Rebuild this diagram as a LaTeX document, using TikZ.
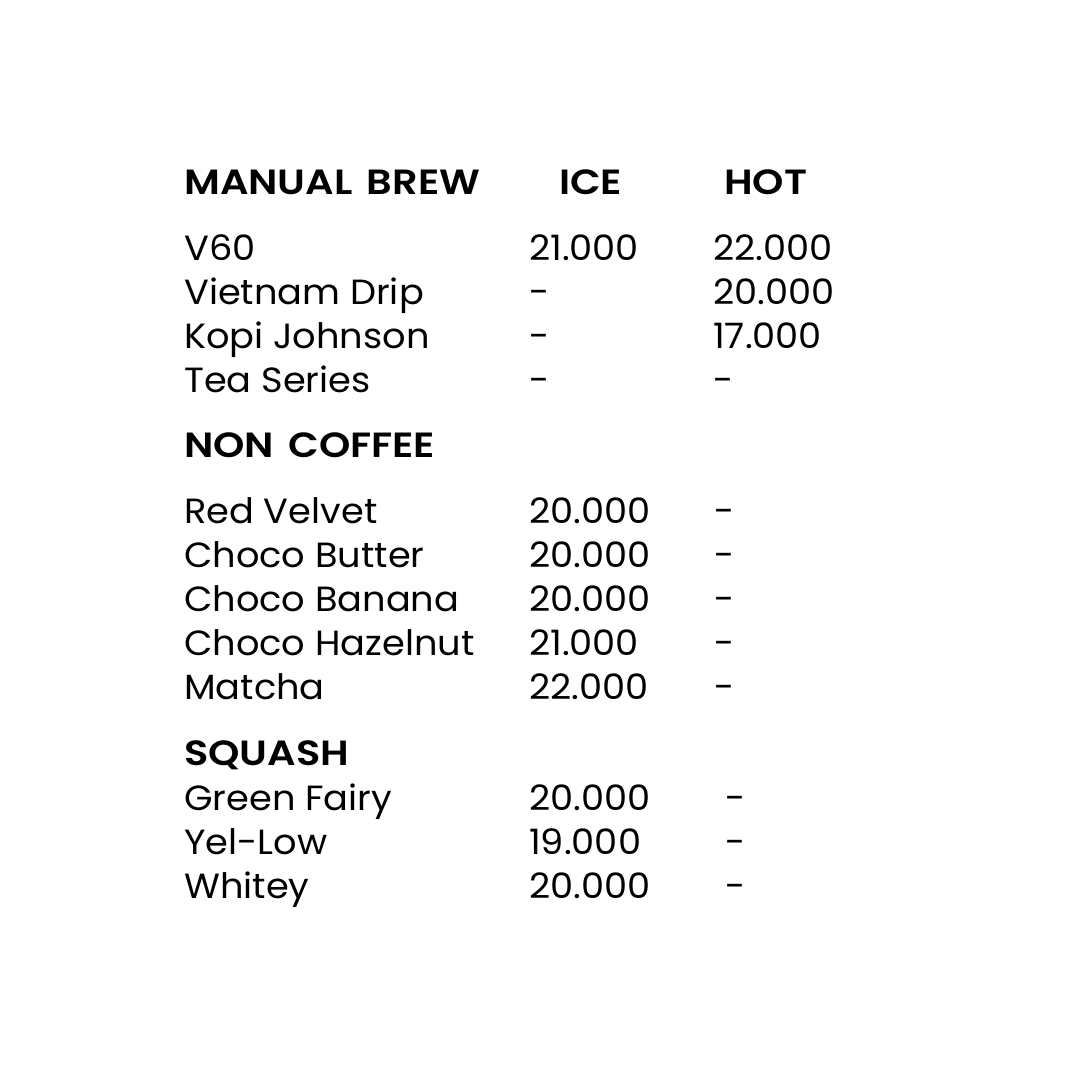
\documentclass[tikz,border=0pt]{standalone}
\usepackage{fontspec}
\setmainfont{Poppins}
\newfontfamily\hdrfont[WordSpace=1.5]{Poppins SemiBold}
\begin{document}
\begin{tikzpicture}[x=1pt,y=-1pt,
  txt/.style={anchor=base west,inner sep=0pt,xscale=1.05,font=\fontsize{35}{40}\selectfont},
  hdr/.style={anchor=base west,inner sep=0pt,xscale=1.14,font=\fontsize{35}{40}\hdrfont}]
\fill[white] (0,0) rectangle (1080,1080);
\useasboundingbox (0,0) rectangle (1080,1080);
% headers
\node[hdr] (h1) at (184,194) {MANUAL BREW};
\node[hdr] (h2) at (559,194) {ICE};
\node[hdr] (h3) at (724,194) {HOT};
% manual brew
\node[txt] (a1) at (184,260) {V60};
\node[txt] (a1i) at (529,260) {21.000};
\node[txt] (a1h) at (713,260) {22.000};
\node[txt] (a2) at (184,304) {Vietnam Drip};
\node[txt] (a2i) at (529,304) {-};
\node[txt] (a2h) at (713,304) {20.000};
\node[txt] (a3) at (184,348) {Kopi Johnson};
\node[txt] (a3i) at (529,348) {-};
\node[txt] (a3h) at (713,348) {17.000};
\node[txt] (a4) at (184,392) {Tea Series};
\node[txt] (a4i) at (529,392) {-};
\node[txt] (a4h) at (713,392) {-};
% non coffee
\node[hdr] (h4) at (184,457) {NON COFFEE};
\node[txt] (b1) at (184,523) {Red Velvet};
\node[txt] (b1i) at (529,523) {20.000};
\node[txt] (b1h) at (714,523) {-};
\node[txt] (b2) at (184,567) {Choco Butter};
\node[txt] (b2i) at (529,567) {20.000};
\node[txt] (b2h) at (714,567) {-};
\node[txt] (b3) at (184,611) {Choco Banana};
\node[txt] (b3i) at (529,611) {20.000};
\node[txt] (b3h) at (714,611) {-};
\node[txt] (b4) at (184,655) {Choco Hazelnut};
\node[txt] (b4i) at (529,655) {21.000};
\node[txt] (b4h) at (714,655) {-};
\node[txt] (b5) at (184,699) {Matcha};
\node[txt] (b5i) at (529,699) {22.000};
\node[txt] (b5h) at (714,699) {-};
% squash
\node[hdr] (h5) at (184,765) {SQUASH};
\node[txt] (c1) at (184,810) {Green Fairy};
\node[txt] (c1i) at (529,810) {20.000};
\node[txt] (c1h) at (725,810) {-};
\node[txt] (c2) at (184,854) {Yel-Low};
\node[txt] (c2i) at (529,854) {19.000};
\node[txt] (c2h) at (725,854) {-};
\node[txt] (c3) at (184,898) {Whitey};
\node[txt] (c3i) at (529,898) {20.000};
\node[txt] (c3h) at (725,898) {-};
\end{tikzpicture}
\end{document}
